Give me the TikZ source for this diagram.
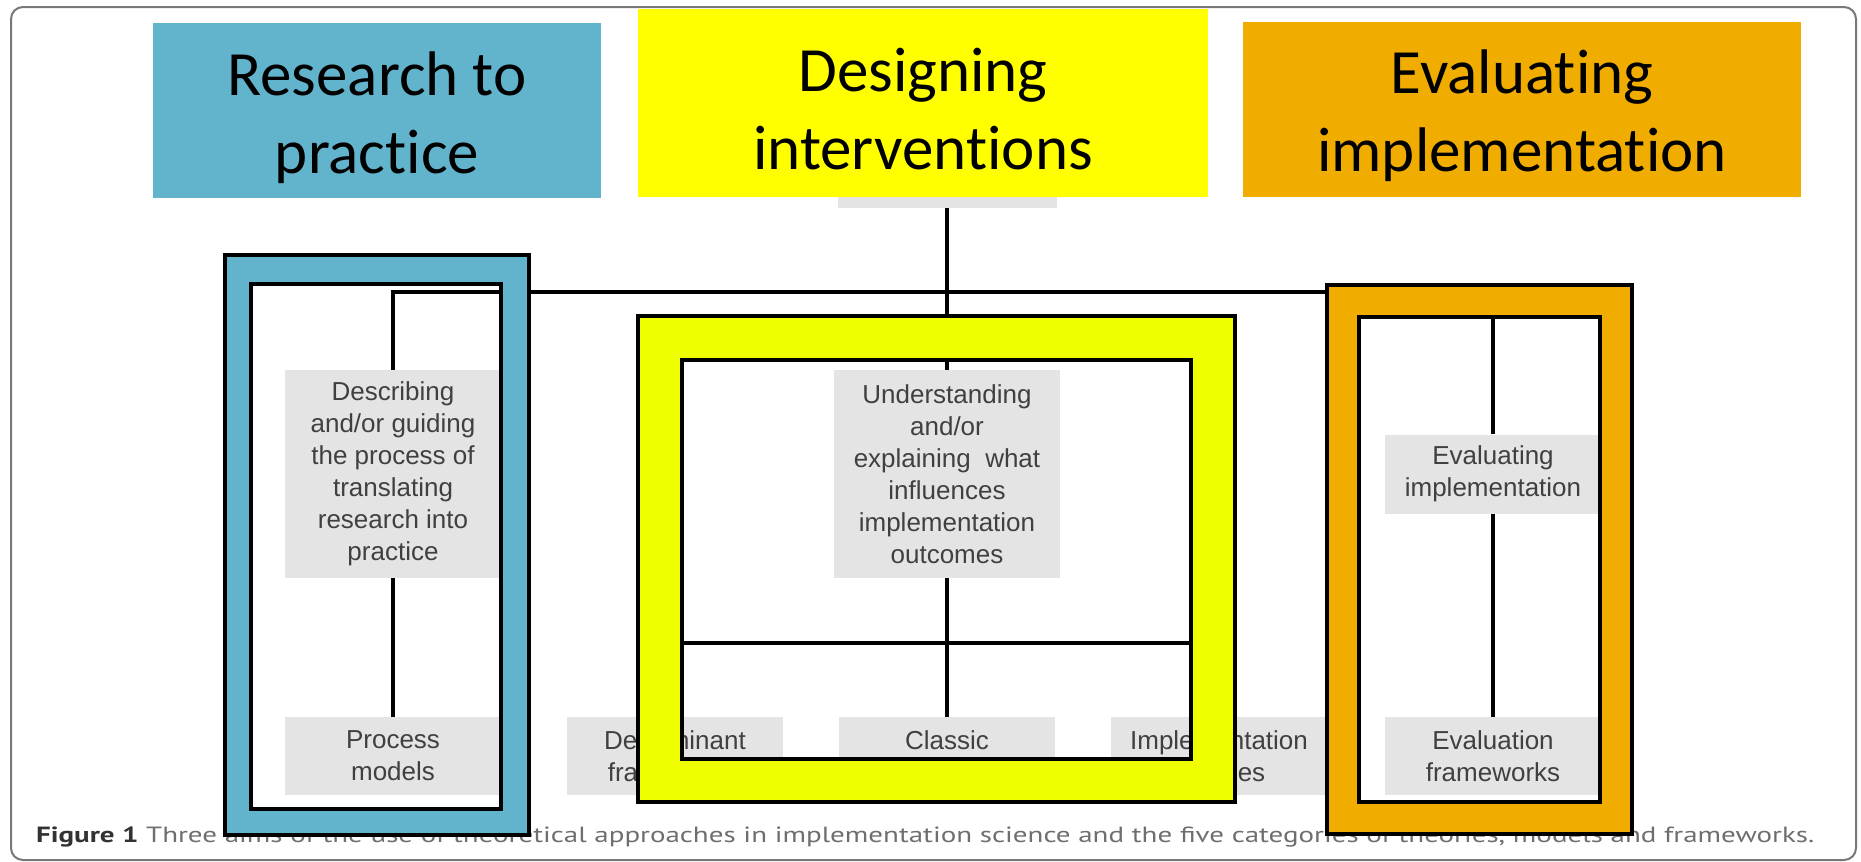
\documentclass[tikz,border=0pt]{standalone}
\usepackage{fontspec}
\usepackage{graphicx}
\newfontfamily\hdrfont[Ligatures=NoCommon]{Carlito}
\newfontfamily\boxfont{Liberation Sans}
\newfontfamily\capfont{PT Sans}
\definecolor{rtpblue}{RGB}{98,179,204}
\definecolor{dsgyellow}{RGB}{255,255,0}
\definecolor{frmyellow}{RGB}{240,255,0}
\definecolor{evlorange}{RGB}{240,173,0}
\definecolor{boxgray}{RGB}{228,228,228}
\definecolor{boxtext}{RGB}{64,64,64}
\definecolor{capgray}{RGB}{110,110,110}
\definecolor{capdark}{RGB}{50,50,50}
\definecolor{bordergray}{RGB}{120,120,120}
\tikzstyle{category}=[fill=boxgray, text=boxtext, font=\boxfont\fontsize{26}{32}\selectfont, align=center, inner sep=0pt, minimum width=216pt, minimum height=78pt]
\tikzstyle{tall category}=[category, minimum height=208pt]
\tikzstyle{link}=[draw=black, line width=3.5pt]
\tikzstyle{aim}=[inner sep=0pt]
\tikzstyle{aim text}=[font=\hdrfont\fontsize{63}{78}\selectfont, align=center, inner sep=0pt]
\tikzstyle{aimframe}=[draw=black, line width=4pt, even odd rule]

\begin{document}
\begin{tikzpicture}[x=1pt, y=-1pt]
      \useasboundingbox (0,0) rectangle (1861,862);
      \draw[bordergray, line width=2pt, rounded corners=12pt] (11,7) rectangle (1856,860);
      % original figure
      \node[category, minimum width=219pt, minimum height=80pt] (approaches) at (947,168) {};
      \coordinate (bar) at (947,292);
      \node[tall category] (describe) at (393,474) {Describing\\and/or guiding\\the process of\\translating\\research into\\practice};
      \node[tall category, minimum width=226pt] (understand) at (947,474) {Understanding\\and/or\\explaining~~what\\influences\\implementation\\outcomes};
      \node[category, minimum height=79pt] (evaluate) at (1493,474) {Evaluating\\implementation};
      \coordinate (subbar) at (947,643);
      \node[category] (process) at (393,756) {Process\\models};
      \node[category] (determinant) at (675,756) {Determinant\\frameworks};
      \node[category] (classic) at (947,756) {Classic\\theories};
      \node[category] (implement) at (1219,756) {Implementation\\theories};
      \node[category] (evalframe) at (1493,756) {Evaluation\\frameworks};
      \draw[link] (approaches) -- (bar);
      \draw[link] (bar) -| (describe.north);
      \draw[link] (bar) -| (evaluate.north);
      \draw[link] (bar) -- (understand);
      \draw[link] (describe) -- (process);
      \draw[link] (evaluate) -- (evalframe);
      \draw[link] (understand) -- (subbar);
      \draw[link] (subbar) -| (determinant.north);
      \draw[link] (subbar) -| (implement.north);
      \draw[link] (subbar) -- (classic);
      \node[anchor=base west, inner sep=0pt] (caption) at (36,842)
        {\resizebox{1778pt}{\height}{\capfont\fontsize{22}{26}\selectfont\textcolor{capdark}{\bfseries Figure 1} \textcolor{capgray}{Three aims of the use of theoretical approaches in implementation science and the five categories of theories, models and frameworks.}}};
      % three aims
      \node[aim, fill=rtpblue, minimum width=448pt, minimum height=175pt] (research) at (377,110.5) {};
      \node[aim, fill=dsgyellow, minimum width=570pt, minimum height=188pt] (designing) at (923,103) {};
      \node[aim, fill=evlorange, minimum width=558pt, minimum height=175pt] (evaluating) at (1522,109.5) {};
      \node[aim text] (research text) at ([yshift=-7pt]research.center) {Research to\\practice};
      \node[aim text] (designing text) at ([yshift=-6pt]designing.center) {Designing\\interventions};
      \node[aim text] (evaluating text) at ([yshift=-6pt]evaluating.center) {Evaluating\\implementation};
      \path[aimframe, fill=rtpblue] (225,255) rectangle (529,835) (251,284) rectangle (501,809);
      \path[aimframe, fill=frmyellow] (638,316) rectangle (1235,802) (682,360) rectangle (1191,759);
      \path[aimframe, fill=evlorange] (1327,284.5) rectangle (1632,834) (1359,316.5) rectangle (1600,802);
    \end{tikzpicture}
\end{document}
